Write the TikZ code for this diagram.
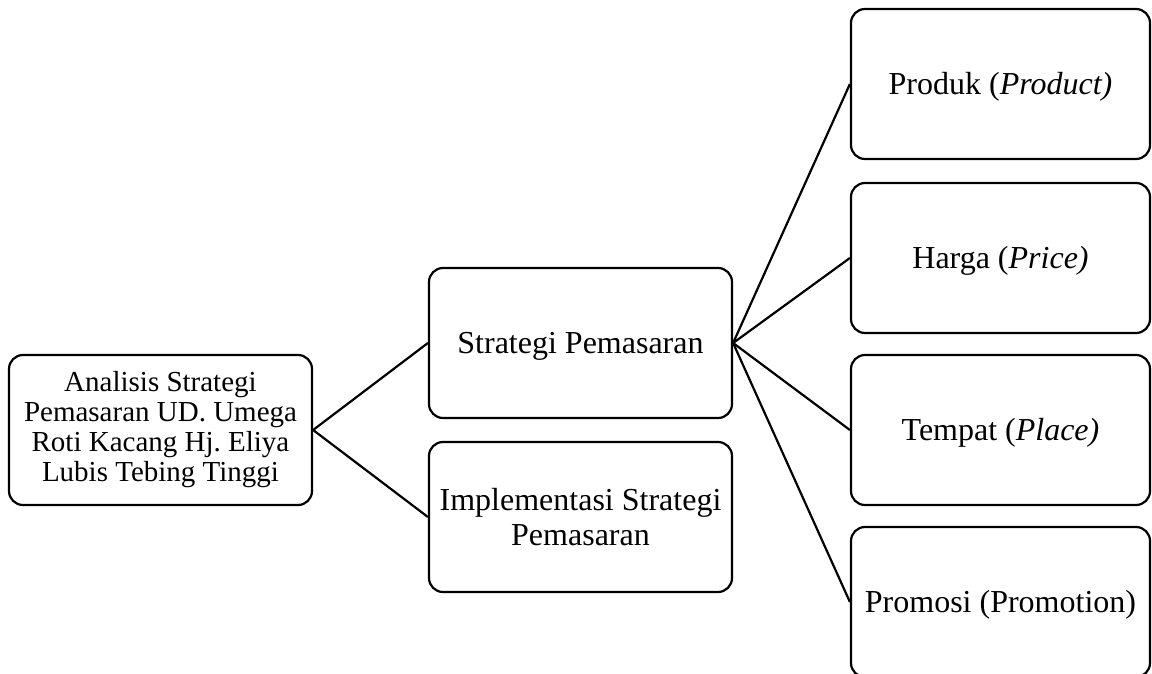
\documentclass[tikz,border=0pt]{standalone}
\usepackage{fontspec}
\setmainfont{Liberation Serif}
\frenchspacing
\begin{document}
\begin{tikzpicture}[x=1pt,y=-1pt,
  box/.style={draw=black, line width=2.2pt, rounded corners=14pt, inner sep=0pt,
    align=center, font=\fontsize{32}{35}\selectfont},
  wide/.style={box, minimum width=303pt, minimum height=150pt},
  item/.style={box, minimum width=299pt, minimum height=150pt},
  oneline/.style={text height=28pt, text depth=7pt},
  link/.style={draw=black, line width=2.2pt}]
\useasboundingbox (0,0) rectangle (1152,674);
% main topic
\node[wide, font=\fontsize{29}{30}\selectfont] (A) at (160.5,430)
  {Analisis Strategi\\Pemasaran UD. Umega\\Roti Kacang Hj. Eliya\\Lubis Tebing Tinggi};
% second level
\node[wide, oneline] (B) at (580.5,343) {Strategi Pemasaran};
\node[wide] (C) at (580.5,517) {Implementasi Strategi\\Pemasaran};
% marketing mix
\node[item, oneline] (P1) at (1000.5,84) {Produk (\textit{Product)}};
\node[item, oneline] (P2) at (1000.5,258) {Harga (\textit{Price)}};
\node[item, oneline] (P3) at (1000.5,430) {Tempat (\textit{Place)}};
\node[item, oneline] (P4) at (1000.5,602) {Promosi (Promotion)};
% connectors
\draw[link] (A.east) -- (B.west);
\draw[link] (A.east) -- (C.west);
\foreach \n in {P1,P2,P3,P4} \draw[link] (B.east) -- (\n.west);
\end{tikzpicture}
\end{document}
